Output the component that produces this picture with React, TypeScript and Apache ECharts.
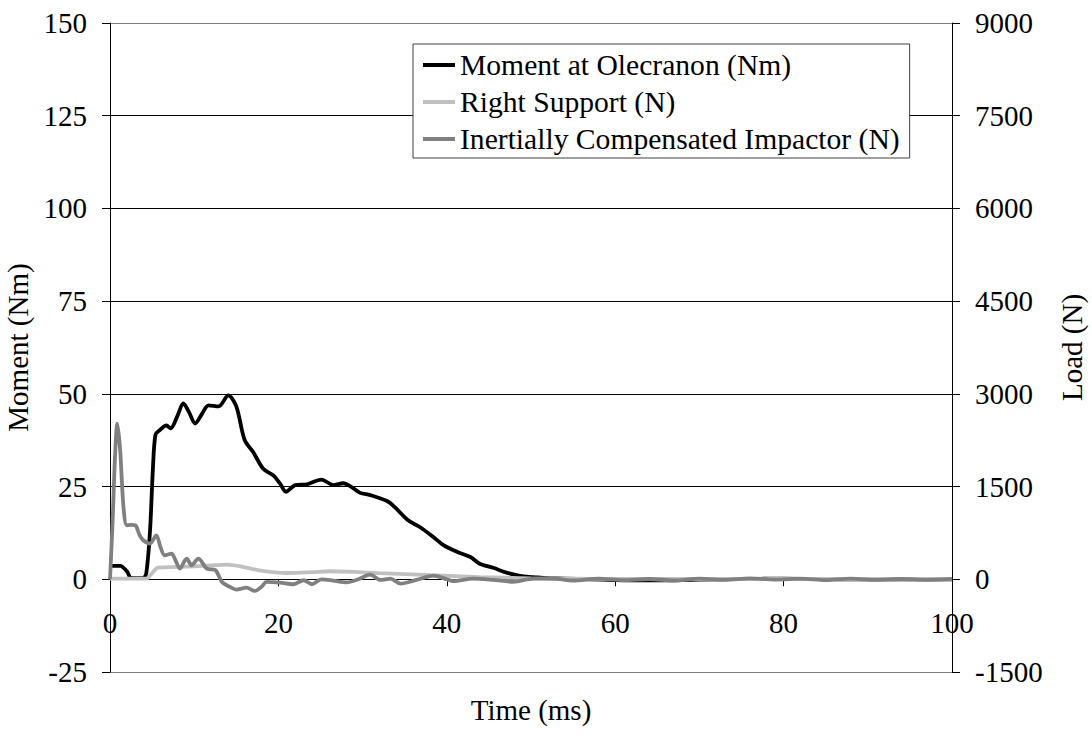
import React, { useEffect, useRef } from "react";
import * as echarts from "echarts";

const momentTime = [0, 1.2, 2.0, 2.5, 3.9, 4.3, 4.75, 5.1, 5.4, 5.9, 6.7, 7.2, 8.0, 8.7, 9.4, 10.1, 10.9, 11.7, 12.9, 14.05, 15.0, 16.0, 17.0, 18.2, 19.4, 20.2, 20.9, 22.0, 23.4, 25.1, 26.5, 27.7, 28.6, 29.7, 30.9, 32.9, 33.8, 35.4, 36.8, 38.4, 39.6, 41.2, 42.8, 43.9, 45.5, 47.1, 48.7, 50.3, 51.9, 54, 57, 60, 64, 68, 72, 76, 80, 84, 88, 92, 96, 100];
const momentValues = [3.6, 3.6, 2.2, 0.4, 0.3, 1.5, 13, 30, 39, 40.2, 41.5, 40.7, 44, 47.4, 45, 42, 44.5, 46.9, 46.6, 49.6, 46.6, 37.5, 34.3, 29.8, 28, 25.8, 23.6, 25.4, 25.6, 26.9, 25.4, 25.9, 25, 23.3, 22.7, 21.1, 19.5, 15.9, 14.1, 11.4, 9.2, 7.4, 6.0, 4.2, 3.1, 1.8, 0.9, 0.6, 0.3, 0.2, 0, -0.2, -0.3, -0.2, 0, 0.1, 0.2, 0.1, 0, 0, 0, 0];

const supportTime = [0, 4.3, 5.0, 5.7, 8, 10, 12, 13.9, 15.5, 17.7, 21, 24, 26.1, 29, 32, 35, 38, 41, 43.9, 47, 50, 55, 60, 70, 80, 90, 100];
const supportValues = [10, 10, 100, 190, 200, 210, 225, 238, 210, 146, 102, 115, 130, 120, 100, 85, 65, 50, 36, 25, 15, 10, 5, 5, 5, 5, 5];

const impactorTime = [0, 0.3, 0.6, 0.87, 1.2, 1.6, 2.0, 2.5, 3.0, 3.5, 3.95, 4.75, 5.5, 6.0, 6.5, 7.3, 7.8, 8.3, 9.1, 9.7, 10.5, 11.5, 12.5, 13.3, 14.2, 15.0, 16.2, 17.2, 18.0, 18.6, 20.2, 21.8, 23, 24, 25.1, 26.5, 28.1, 29.5, 30.9, 32.1, 33.3, 34.5, 36.4, 38.4, 40, 40.8, 43.1, 45.5, 47.9, 50.3, 52.7, 55, 58, 61, 64, 67, 70, 73, 76, 79, 82, 85, 88, 91, 94, 97, 100];
const impactorValues = [0, 900, 2000, 2520, 2100, 1170, 874, 880, 874, 720, 631, 577, 712, 520, 388, 416, 300, 173, 335, 227, 335, 173, 150, -43, -120, -167, -135, -189, -120, -43, -55, -80, -16, -80, 0, -20, -50, 0, 76, -10, 10, -70, -10, 60, 0, -30, 10, -10, -40, 10, 10, -20, 10, -15, 5, -20, 10, -10, 15, -5, 10, -15, 10, -10, 5, -10, 5];

const seriesNames = ["Moment at Olecranon (Nm)", "Right Support (N)", "Inertially Compensated Impactor (N)"];
const seriesColors = ["#000000", "#c0c0c0", "#808080"];

const zip = (xs: number[], ys: number[]) => xs.map((x, i) => [x, ys[i]]);

export default function App() {
  const ref = useRef<HTMLDivElement>(null);
  useEffect(() => {
    document.body.style.margin = "0";
    const chart = echarts.init(ref.current!, null, { renderer: "svg" });
    const txt = { color: "#000", fontSize: 29, fontWeight: "normal" as const, fontFamily: "Liberation Serif" };
    const plotTop = 23;
    const plotBottom = 672;
    const yMin = -25;
    const yMax = 150;
    const zeroOffset = ((0 - yMin) / (yMax - yMin)) * (plotBottom - plotTop);
    chart.setOption({
      animation: false,
      backgroundColor: "#fff",
      textStyle: { fontFamily: "Liberation Serif" },
      grid: { left: 110, right: 140, top: plotTop, bottom: 734 - plotBottom, containLabel: false, outerBoundsMode: "none" },
      legend: {
        orient: "vertical",
        left: 413,
        top: 44,
        padding: [5, 10, 3, 10],
        itemGap: 5,
        itemWidth: 32,
        itemHeight: 4,
        backgroundColor: "#fff",
        borderColor: "#404040",
        borderWidth: 1,
        borderRadius: 0,
        textStyle: { ...txt, fontSize: 29.6, lineHeight: 32 },
        data: seriesNames.map((n) => ({ name: n, icon: "rect" })),
      },
      xAxis: {
        type: "value",
        min: 0,
        max: 100,
        interval: 20,
        position: "bottom",
        offset: -zeroOffset,
        name: "Time (ms)",
        nameLocation: "middle",
        nameGap: 116,
        nameTextStyle: txt,
        axisLine: { onZero: false, lineStyle: { color: "#000", width: 1 } },
        axisTick: { inside: false, length: 7, lineStyle: { color: "#000" } },
        axisLabel: { ...txt, margin: 29 },
        splitLine: { show: false },
      },
      yAxis: [
        {
          type: "value",
          min: yMin,
          max: yMax,
          interval: 25,
          name: "Moment (Nm)",
          nameLocation: "middle",
          nameRotate: 90,
          nameGap: 58,
          nameTextStyle: txt,
          axisLine: { show: true, onZero: false, lineStyle: { color: "#000" } },
          axisTick: { show: true, inside: false, length: 8, lineStyle: { color: "#000" } },
          axisLabel: { ...txt, margin: 23 },
          splitLine: {
            show: true,
            lineStyle: { color: ["#808080", "#000", "#000", "#000", "#000", "#000", "#000", "#808080"], width: 1 },
          },
        },
        {
          type: "value",
          min: -1500,
          max: 9000,
          interval: 1500,
          position: "right",
          name: "Load (N)",
          nameLocation: "middle",
          nameRotate: 90,
          nameGap: 105,
          nameTextStyle: txt,
          axisLine: { show: true, onZero: false, lineStyle: { color: "#000" } },
          axisTick: { show: true, inside: false, length: 8, lineStyle: { color: "#000" } },
          axisLabel: { ...txt, margin: 23, formatter: (v: number) => String(v) },
          splitLine: { show: false },
        },
      ],
      series: [
        {
          name: seriesNames[0],
          type: "line",
          yAxisIndex: 0,
          data: zip(momentTime, momentValues),
          smooth: 0.3,
          showSymbol: false,
          lineStyle: { color: seriesColors[0], width: 3.8 },
          itemStyle: { color: seriesColors[0] },
        },
        {
          name: seriesNames[1],
          type: "line",
          yAxisIndex: 1,
          data: zip(supportTime, supportValues),
          smooth: 0.3,
          showSymbol: false,
          lineStyle: { color: seriesColors[1], width: 3.8 },
          itemStyle: { color: seriesColors[1] },
        },
        {
          name: seriesNames[2],
          type: "line",
          yAxisIndex: 1,
          data: zip(impactorTime, impactorValues),
          smooth: 0.3,
          showSymbol: false,
          lineStyle: { color: seriesColors[2], width: 3.8 },
          itemStyle: { color: seriesColors[2] },
        },
      ],
    });
    return () => chart.dispose();
  }, []);
  return <div ref={ref} style={{ width: 1092, height: 734 }} />;
}
